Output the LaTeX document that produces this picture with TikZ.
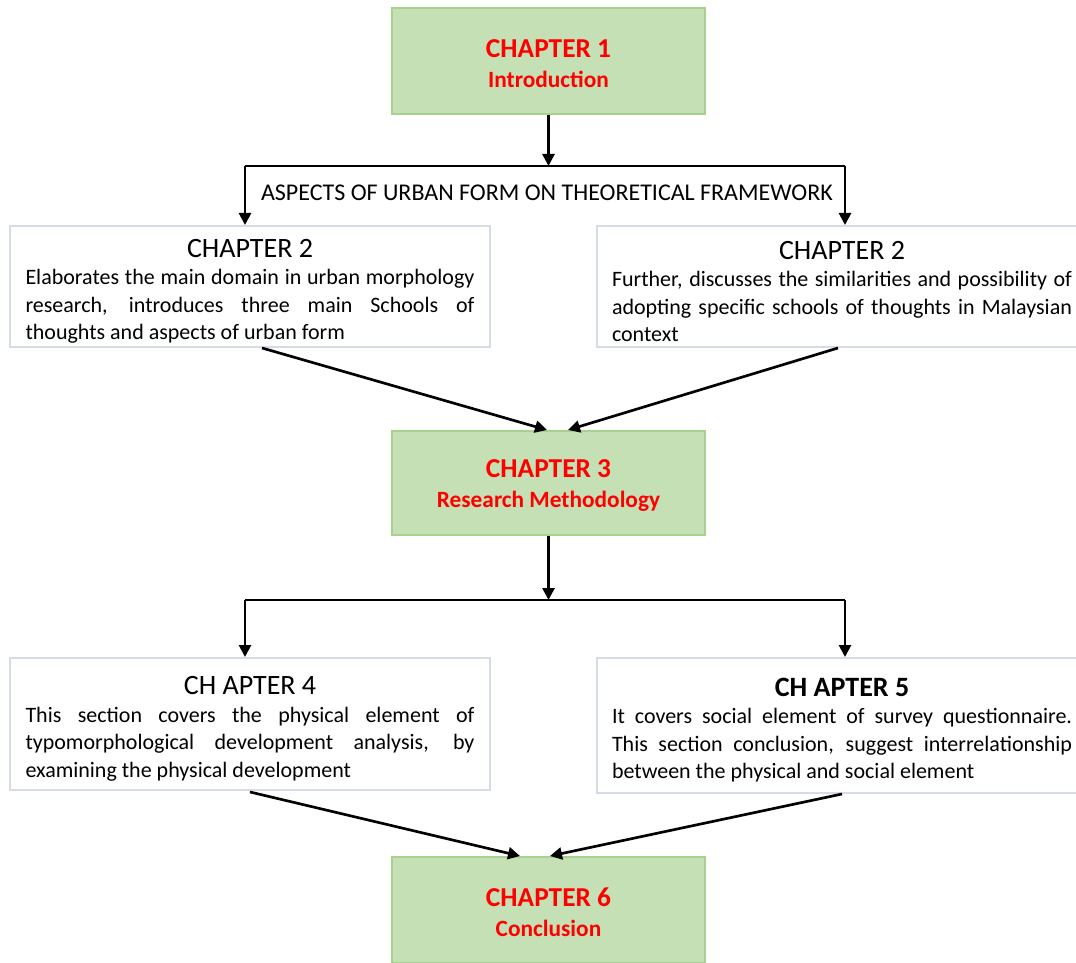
\documentclass[tikz,border=0pt]{standalone}
\usepackage{fontspec}
\setmainfont{Carlito}
\usetikzlibrary{arrows.meta,calc}
\definecolor{gfill}{HTML}{C5E0B4}
\definecolor{gline}{HTML}{A9D18E}
\definecolor{bline}{HTML}{D6DCE5}
\definecolor{redtxt}{HTML}{FF0000}
\newcommand{\headfont}{\fontsize{21}{24}\selectfont\rule{0pt}{21pt}}
\newcommand{\titlefont}{\fontsize{20.5}{22.5}\selectfont\rule{0pt}{17pt}}
\newcommand{\boxprep}{\tolerance=10000\hyphenpenalty=10000}
\begin{document}
\begin{tikzpicture}[x=0.75pt,y=-0.75pt,
  greenbox/.style={draw=gline, fill=gfill, line width=1.5pt, minimum width=234.75pt,
    align=center, text=redtxt, font=\bfseries\fontsize{17.5}{22.5}\selectfont},
  whitebox/.style={draw=bline, fill=white, line width=1.5pt, align=justify,
    inner ysep=0pt, font=\fontsize{16.5}{20.6}\selectfont},
  conn/.style={line width=2pt, draw=black},
  arr/.style={conn, -{Triangle[length=9pt,width=9pt]}},
  lbl/.style={inner sep=0pt, font=\fontsize{18}{20}\selectfont}
]
\useasboundingbox (0,0) rectangle (1076,963);

% green chapter boxes
\node[greenbox, minimum height=79.5pt] (b1) at (548.5,61)
  {{\titlefont CHAPTER 1}\\Introduction};
\node[greenbox, minimum height=78pt] (b3) at (548.5,483)
  {{\titlefont CHAPTER 3}\\Research Methodology};
\node[greenbox, minimum height=79.5pt] (b6) at (548.5,910)
  {{\titlefont CHAPTER 6}\\Conclusion};

% white description boxes
\node[whitebox, text width=336.75pt, inner xsep=11.6pt, minimum height=90.75pt] (b2l) at (250,286.5)
  {\boxprep{\centering\headfont CHAPTER 2\par}%
   Elaborates the main domain in urban morphology\linebreak
   research, introduces three main Schools of\linebreak
   thoughts and aspects of urban form};
\node[whitebox, text width=345pt, inner xsep=11.25pt, minimum height=90.75pt] (b2r) at (842,286.5)
  {\boxprep{\centering\headfont CHAPTER 2\par}%
   Further, discusses the similarities and possibility of\linebreak
   adopting specific schools of thoughts in Malaysian\linebreak
   context};
\node[whitebox, text width=336.75pt, inner xsep=11.6pt, minimum height=99pt] (b4) at (250,724)
  {\boxprep{\centering\headfont CH APTER 4\par}%
   This section covers the physical element of\linebreak
   typomorphological development analysis, by\linebreak
   examining the physical development};
\node[whitebox, text width=345pt, inner xsep=11.25pt, minimum height=101.25pt] (b5) at (842,725.5)
  {\boxprep{\centering\headfont\bfseries CH APTER 5\par}%
   It covers social element of survey questionnaire.\linebreak
   This section conclusion, suggest interrelationship\linebreak
   between the physical and social element};

% junction points
\coordinate (j1) at (548.5,166);
\coordinate (j1l) at (245,166);
\coordinate (j1r) at (845,166);
\coordinate (j2) at (548.5,600);
\coordinate (j2l) at (245,600);
\coordinate (j2r) at (845,600);

\node[lbl] (aspects) at (547,193) {ASPECTS OF URBAN FORM ON THEORETICAL FRAMEWORK};

% connectors
\draw[arr] (b1.south) -- (j1);
\draw[conn] (j1l) -- (j1r);
\draw[arr] (j1l) -- (j1l |- b2l.north);
\draw[arr] (j1r) -- (j1r |- b2r.north);
\draw[arr] ($(b2l.south)+(12,0)$) -- ($(b3.north)+(-1.5,0)$);
\draw[arr] ($(b2r.south)+(-4,0)$) -- ($(b3.north)+(19.5,0)$);

\draw[arr] (b3.south) -- (j2);
\draw[conn] (j2l) -- (j2r);
\draw[arr] (j2l) -- (j2l |- b4.north);
\draw[arr] (j2r) -- (j2r |- b5.north);
\draw[arr] ($(b4.south)+(0,1)$) -- ($(b6.north)+(-28.5,0)$);
\draw[arr] (b5.south) -- ($(b6.north)+(1.5,0)$);
\end{tikzpicture}
\end{document}
